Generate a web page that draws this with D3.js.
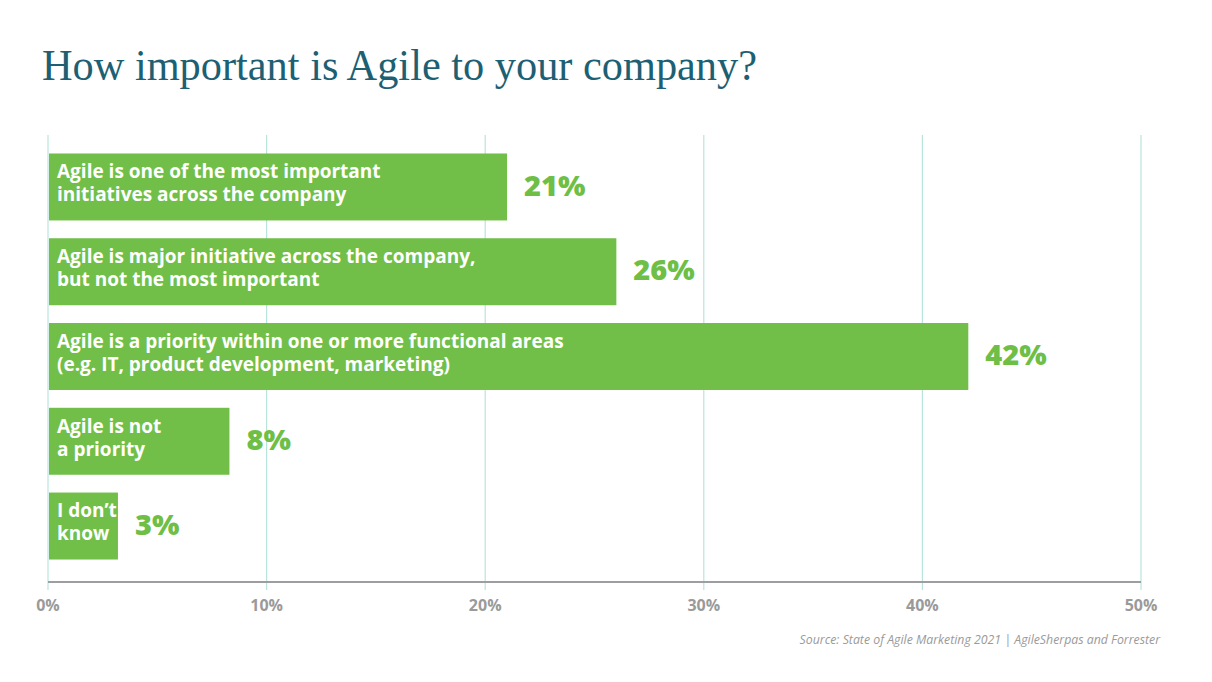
<!DOCTYPE html>
<html>
<head>
<meta charset="utf-8">
<script src="https://cdn.jsdelivr.net/npm/d3@7"></script>
<style>
  body { margin: 0; background: #fff; }
  .grid line { stroke: #b9e4dc; stroke-width: 1.2; }
  .bar-label { font-family: "Open Sans", sans-serif; font-weight: 700; fill: #fff; font-size: 19px; }
  .value { font-family: "Open Sans", sans-serif; font-weight: 800; fill: #6fbf47; font-size: 29px; }
  .tick-label { font-family: "Open Sans", sans-serif; font-weight: 700; fill: #9a9a9a; font-size: 16px; }
</style>
</head>
<body>
<div id="chart"></div>
<script>
var width = 1212;
var height = 682;

// data
var categories = [
    ["Agile is one of the most important", "initiatives across the company"],
    ["Agile is major initiative across the company,", "but not the most important"],
    ["Agile is a priority within one or more functional areas", "(e.g. IT, product development, marketing)"],
    ["Agile is not", "a priority"],
    ["I don\u2019t", "know"]
];
// bar lengths as drawn in the picture, and the labels printed next to them
var barValues = [21, 26, 42.1, 8.3, 3.2];
var valueLabels = ["21%", "26%", "42%", "8%", "3%"];
var tickValues = [0, 10, 20, 30, 40, 50];

var svg = d3.select("#chart")
    .append("svg")
    .attr("width", width)
    .attr("height", height);

var x = d3.scaleLinear()
    .domain([0, 50])
    .range([48, 1141]);

var y = d3.scaleBand()
    .domain(d3.range(barValues.length))
    .range([145, 568])
    .paddingInner(0.21)
    .paddingOuter(0.1);

// title
svg.append("text")
    .attr("x", 42)
    .attr("y", 80)
    .attr("font-family", "Liberation Serif, serif")
    .attr("font-size", 45)
    .attr("textLength", 715)
    .attr("lengthAdjust", "spacingAndGlyphs")
    .attr("fill", "#1d5f73")
    .text("How important is Agile to your company?");

// gridlines
svg.append("g")
    .attr("class", "grid")
    .selectAll("line")
    .data(tickValues)
    .enter()
    .append("line")
    .attr("x1", d => x(d))
    .attr("x2", d => x(d))
    .attr("y1", 135)
    .attr("y2", 590);

// bars
svg.selectAll("rect.bar")
    .data(barValues)
    .enter()
    .append("rect")
    .attr("class", "bar")
    .attr("x", x(0) + 1)
    .attr("y", (d, i) => y(i))
    .attr("width", d => x(d) - x(0) - 1)
    .attr("height", y.bandwidth())
    .attr("fill", "#71bf48");

// bar labels
var labels = svg.selectAll("text.bar-label")
    .data(categories)
    .enter()
    .append("text")
    .attr("class", "bar-label")
    .attr("x", 57)
    .attr("y", (d, i) => y(i) + y.bandwidth() / 2);

labels.selectAll("tspan")
    .data(d => d)
    .enter()
    .append("tspan")
    .attr("x", 57)
    .attr("dy", (d, i) => i === 0 ? "-0.45em" : "1.2em")
    .text(d => d);

// values
svg.selectAll("text.value")
    .data(barValues)
    .enter()
    .append("text")
    .attr("class", "value")
    .attr("x", d => x(d) + 17)
    .attr("y", (d, i) => y(i) + y.bandwidth() / 2)
    .attr("dy", "0.3em")
    .text((d, i) => valueLabels[i]);

// axis line
svg.append("line")
    .attr("x1", x(0))
    .attr("x2", x(50))
    .attr("y1", 582)
    .attr("y2", 582)
    .attr("stroke", "#9c9ea3")
    .attr("stroke-width", 2);

// tick labels
svg.selectAll("text.tick-label")
    .data(tickValues)
    .enter()
    .append("text")
    .attr("class", "tick-label")
    .attr("x", d => x(d))
    .attr("y", 611)
    .attr("text-anchor", "middle")
    .text(d => d + "%");

// source
svg.append("text")
    .attr("x", 1160)
    .attr("y", 644)
    .attr("text-anchor", "end")
    .attr("font-family", "Open Sans, sans-serif")
    .attr("font-style", "italic")
    .attr("font-size", 12.3)
    .attr("fill", "#9a9a9a")
    .text("Source: State of Agile Marketing 2021 | AgileSherpas and Forrester");
</script>
</body>
</html>
